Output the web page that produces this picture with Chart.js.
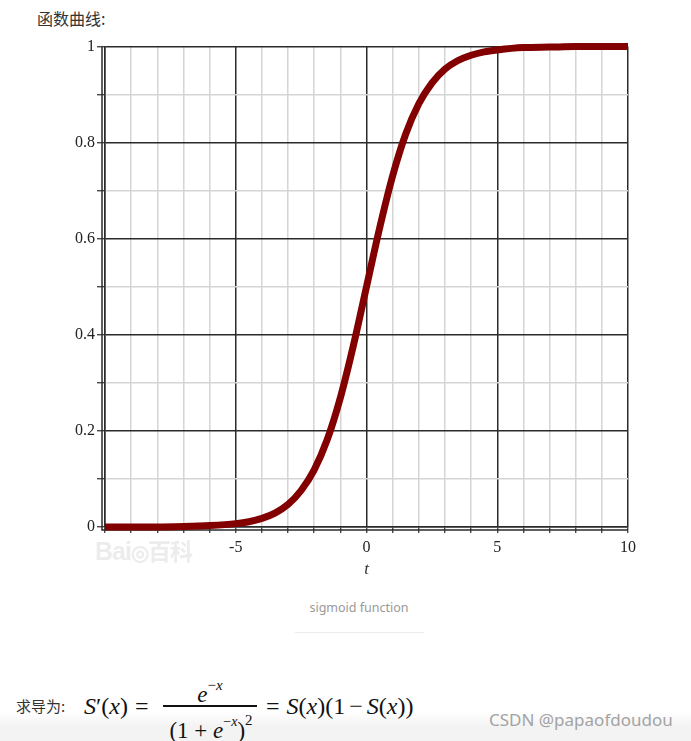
<!DOCTYPE html>
<html>
<head>
<meta charset="utf-8">
<script src="https://cdn.jsdelivr.net/npm/chart.js@4.4.1/dist/chart.umd.min.js"></script>
<style>
  html, body { margin:0; padding:0; background:#fff; }
  #page { position:relative; width:691px; height:741px; overflow:hidden; background:#fff; }
  .abs { position:absolute; white-space:nowrap; }
  #band { position:absolute; left:0; top:712px; width:691px; height:29px;
          background:linear-gradient(#ffffff, #f3f3f3 14px, #f3f3f3); }
  .m { font-family:"Liberation Serif","DejaVu Serif",serif; color:#111; }
  .i { font-style:italic; }
  .eq { display:inline-block; margin:0 7px; }
  .op { display:inline-block; margin:0 4px; }
</style>
</head>
<body>
<div id="page">
  <div id="band"></div>
  <div class="abs" style="left:37px; top:8px; font:16px 'Noto Sans CJK SC','Noto Sans',sans-serif; color:#333; line-height:20px;">函数曲线:</div>

  <div class="abs" style="left:74px; top:0; width:617px; height:600px; overflow:hidden;">
    <canvas id="c" width="584" height="547" style="position:absolute; left:-10px; top:35px;"></canvas>
  </div>

  <div class="abs" style="left:95px; top:533px; font:bold 25px 'Liberation Sans',sans-serif; color:#ececec; letter-spacing:-1px;">Bai<span style="font-size:21px;">◎</span><span style="font:bold 23px 'Noto Sans CJK SC',sans-serif;">百科</span></div>

  <div class="abs" style="left:0; width:718px; text-align:center; top:599px; font:12.5px 'Noto Sans','Open Sans',sans-serif; color:#999; line-height:18px;">sigmoid function</div>
  <div class="abs" style="left:295px; top:632px; width:129px; height:1px; background:#ececec;"></div>

  <div class="abs" style="left:16px; top:696px; font:15px 'Noto Sans CJK SC',sans-serif; color:#333; line-height:20px;">求导为:</div>
  <div class="abs m" style="left:84px; top:691px; font-size:24px; line-height:30px;"><span class="i">S</span>′(<span class="i">x</span>)<span class="eq">=</span></div>
  <div class="abs m" style="left:163px; width:94px; text-align:center; top:674px; font-size:23px; line-height:28px;"><span class="i">e</span><sup style="font-size:15px; position:relative; top:-3px;">−<span class="i">x</span></sup></div>
  <div class="abs" style="left:163px; top:705px; width:94px; height:1.5px; background:#111;"></div>
  <div class="abs m" style="left:162px; width:98px; text-align:center; top:710px; font-size:23px; line-height:28px;">(1 + <span class="i">e</span><sup style="font-size:14px; position:relative; top:-3px;">−<span class="i">x</span></sup>)<sup style="font-size:15px; position:relative; top:-4px;">2</sup></div>
  <div class="abs m" style="left:266px; top:691px; font-size:24px; line-height:30px;"><span class="eq" style="margin-left:0">=</span><span class="i">S</span>(<span class="i">x</span>)(1<span class="op">−</span><span class="i">S</span>(<span class="i">x</span>))</div>

  <div class="abs" style="left:489px; top:709px; font:17px 'Noto Sans','Open Sans',sans-serif; color:#a3a3a3; line-height:22px;">CSDN @papaofdoudou</div>
</div>

<script>
// ---- data ----
const tValues = [-10, -9, -8, -7, -6, -5, -4.5, -4, -3.5, -3, -2.5, -2, -1.5, -1, -0.5, 0, 0.5, 1, 1.5, 2, 2.5, 3, 3.5, 4, 4.5, 5, 6, 7, 8, 9, 10];
const sValues = [0.000, 0.000, 0.000, 0.001, 0.003, 0.007, 0.011, 0.018, 0.029, 0.047, 0.076, 0.119, 0.182, 0.269, 0.378, 0.500, 0.622, 0.731, 0.818, 0.881, 0.924, 0.953, 0.971, 0.982, 0.989, 0.993, 0.998, 0.999, 1.000, 1.000, 1.000];
const xLabelTicks = [-5, 0, 5, 10];
const yLabelTicks = [0, 0.2, 0.4, 0.6, 0.8, 1];
const axisTitleX = 't';

const points = tValues.map((t, i) => ({ x: t, y: sValues[i] }));
const MAJOR = '#2b2b2b', MINOR = '#d5d5d5', LABEL = '#222';
const isMajorX = v => Math.round(v) % 5 === 0;
const isMajorY = v => Math.round(v * 10) % 2 === 0;

const doubleAxis = {
  id: 'doubleAxis',
  beforeDatasetsDraw(chart) {
    const { ctx, chartArea: a } = chart;
    ctx.save();
    ctx.strokeStyle = MAJOR;
    ctx.lineWidth = 1.5;
    ctx.beginPath();
    ctx.moveTo(a.left - 3, a.top);
    ctx.lineTo(a.left - 3, a.bottom + 3);
    ctx.lineTo(a.right, a.bottom + 3);
    ctx.stroke();
    ctx.restore();
  }
};

new Chart(document.getElementById('c'), {
  type: 'scatter',
  data: {
    datasets: [{
      data: points,
      showLine: true,
      borderColor: '#820000',
      backgroundColor: '#820000',
      borderWidth: 7,
      pointRadius: 0,
      cubicInterpolationMode: 'monotone',
      clip: false
    }]
  },
  options: {
    responsive: false,
    animation: false,
    devicePixelRatio: 1,
    layout: { padding: { left: 0, right: 20, top: 10, bottom: 0 } },
    plugins: { legend: { display: false }, tooltip: { enabled: false } },
    scales: {
      x: {
        type: 'linear', min: -10, max: 10,
        afterFit(s) { s.height = 55; },
        ticks: {
          stepSize: 1, autoSkip: false, maxRotation: 0, padding: 5,
          color: LABEL, font: { family: 'Liberation Serif', size: 16 },
          callback: v => xLabelTicks.includes(Math.round(v)) ? String(Math.round(v)) : ''
        },
        grid: {
          color: c => (c.tick && isMajorX(c.tick.value)) ? MAJOR : MINOR,
          lineWidth: 1.5, tickLength: 6, tickColor: MAJOR, tickWidth: 1.2
        },
        border: { display: true, color: MAJOR, width: 1.5 },
        title: { display: true, text: axisTitleX, color: '#333',
                 font: { family: 'Liberation Serif', size: 17, style: 'italic' },
                 padding: { top: 0, bottom: 2 } }
      },
      y: {
        type: 'linear', min: 0, max: 1,
        afterFit(s) { s.width = 41; },
        ticks: {
          stepSize: 0.1, autoSkip: false, padding: 2,
          color: LABEL, font: { family: 'Liberation Serif', size: 16 },
          callback: v => {
            const k = Math.round(v * 10) / 10;
            return yLabelTicks.includes(k) ? String(k) : '';
          }
        },
        grid: {
          color: c => (c.tick && isMajorY(c.tick.value)) ? MAJOR : MINOR,
          lineWidth: 1.5, tickLength: 8, tickColor: MAJOR, tickWidth: 1.2
        },
        border: { display: true, color: MAJOR, width: 1.5 }
      }
    }
  },
  plugins: [doubleAxis]
});
</script>
</body>
</html>
